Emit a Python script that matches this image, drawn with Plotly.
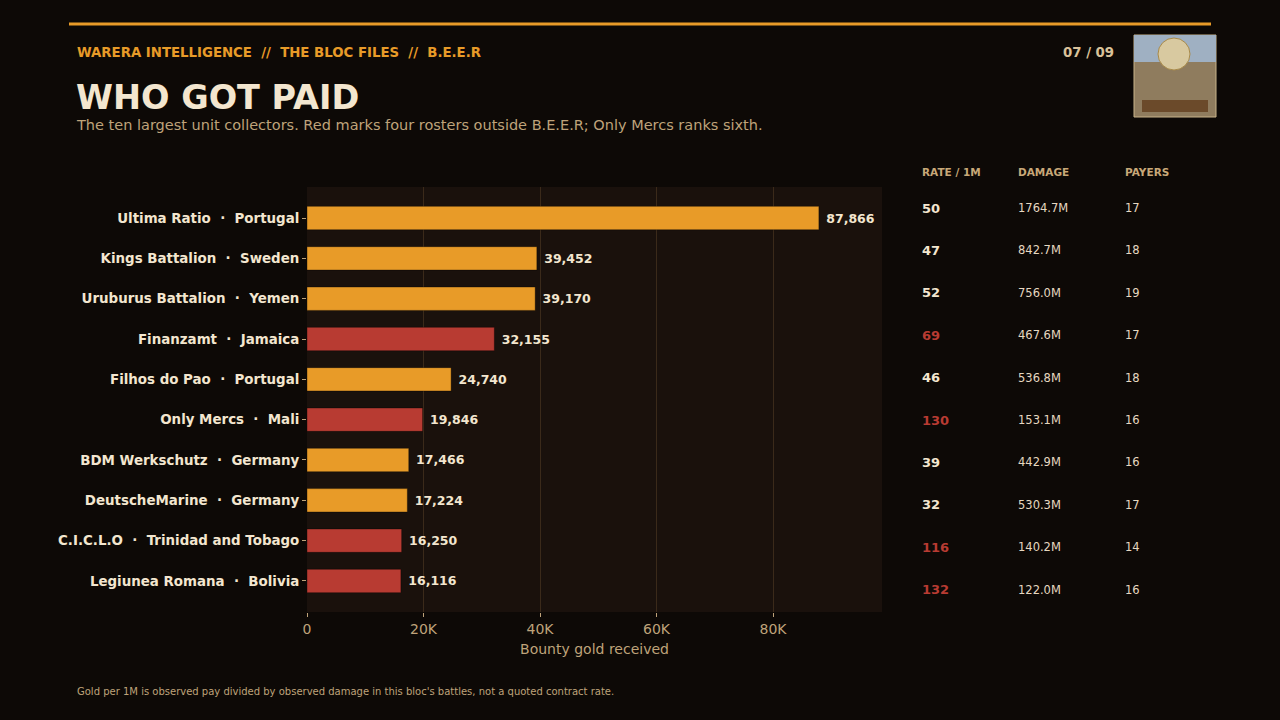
import plotly.graph_objects as go

# ---- data ----
units = ["Ultima Ratio", "Kings Battalion", "Uruburus Battalion", "Finanzamt", "Filhos do Pao",
         "Only Mercs", "BDM Werkschutz", "DeutscheMarine", "C.I.C.L.O", "Legiunea Romana"]
countries = ["Portugal", "Sweden", "Yemen", "Jamaica", "Portugal",
             "Mali", "Germany", "Germany", "Trinidad and Tobago", "Bolivia"]
gold = [87866, 39452, 39170, 32155, 24740, 19846, 17466, 17224, 16250, 16116]
outside_bloc = [False, False, False, True, False, True, False, False, True, True]
rate_per_1m = [50, 47, 52, 69, 46, 130, 39, 32, 116, 132]
damage_m = [1764.7, 842.7, 756.0, 467.6, 536.8, 153.1, 442.9, 530.3, 140.2, 122.0]
payers = [17, 18, 19, 17, 18, 16, 16, 17, 14, 16]
x_ticks = [0, 20000, 40000, 60000, 80000]
x_tick_labels = ["0", "20K", "40K", "60K", "80K"]

BG = "#0d0906"
PLOT_BG = "#1a110c"
ORANGE = "#e89b28"
RED = "#b83b32"
CREAM = "#f3e6cf"
TAN = "#bfa37a"
GRID = "#3b2a1a"
FONT = "DejaVu Sans"

nb = "\u00a0"
labels = [f"{u}{nb*2}·{nb*2}{c}" for u, c in zip(units, countries)]
colors = [RED if o else ORANGE for o in outside_bloc]

fig = go.Figure()
fig.add_trace(go.Bar(
    x=gold, y=labels, orientation="h",
    marker=dict(color=colors, line=dict(color="rgba(0,0,0,0.35)", width=1)),
    width=0.58,
    text=[f"{nb}{g:,}" for g in gold], textposition="outside",
    textfont=dict(family=FONT, size=12.5, color=CREAM, weight="bold"),
    cliponaxis=False, hoverinfo="skip",
))

# plot area: x 307..882, y 187..612 in pixels
L, R, T, B = 307, 882, 187, 612
W, H = 1280, 720
def px(x):
    return (x - L) / (R - L)
def py(y):
    return (B - y) / (B - T)

ann = []
def text(x, y, s, size, color, bold=False, xanchor="left"):
    ann.append(dict(xref="paper", yref="paper", x=px(x), y=py(y), text=s, showarrow=False,
                    xanchor=xanchor, yanchor="middle",
                    font=dict(family=FONT, size=size, color=color, weight="bold" if bold else "normal")))

text(75, 52, f"WARERA INTELLIGENCE{nb*2}//{nb*2}THE BLOC FILES{nb*2}//{nb*2}B.E.E.R", 13.3, ORANGE, True)
text(1116, 52, "07 / 09", 13.3, "#d9c29a", True, "right")
text(74, 97, "WHO GOT PAID", 33.5, CREAM, True)
text(74, 125, "The ten largest unit collectors. Red marks four rosters outside B.E.E.R; Only Mercs ranks sixth.",
     14.5, TAN)
text(75, 691, "Gold per 1M is observed pay divided by observed damage in this bloc's battles, not a quoted contract rate.",
     10, TAN)

# side table
col_x = [920, 1016, 1123]
text(col_x[0], 172, "RATE / 1M", 10.5, "#c8a878", True)
text(col_x[1], 172, "DAMAGE", 10.5, "#c8a878", True)
text(col_x[2], 172, "PAYERS", 10.5, "#c8a878", True)
row0, step = 208, 42.4
for i in range(len(units)):
    y = row0 + i * step
    text(col_x[0], y, str(rate_per_1m[i]), 13, RED if outside_bloc[i] else CREAM, True)
    text(col_x[1], y, f"{damage_m[i]:.1f}M", 11.5, "#e6d8c0")
    text(col_x[2], y, str(payers[i]), 11.5, "#e6d8c0")

shapes = [
    dict(type="line", xref="paper", yref="paper", x0=px(69), x1=px(1211), y0=py(24), y1=py(24),
         line=dict(color=ORANGE, width=3)),
    # thumbnail placeholder
    dict(type="rect", xref="paper", yref="paper", x0=px(1134), x1=px(1216), y0=py(35), y1=py(117),
         fillcolor="#8f7c5e", line=dict(color="#c9b48a", width=1)),
    dict(type="rect", xref="paper", yref="paper", x0=px(1134), x1=px(1216), y0=py(35), y1=py(62),
         fillcolor="#9fb0c2", line=dict(width=0)),
    dict(type="circle", xref="paper", yref="paper", x0=px(1158), x1=px(1190), y0=py(38), y1=py(70),
         fillcolor="#d8c9a0", line=dict(color="#a88a4a", width=1)),
    dict(type="rect", xref="paper", yref="paper", x0=px(1142), x1=px(1208), y0=py(100), y1=py(112),
         fillcolor="#6b4a2a", line=dict(width=0)),
]

fig.update_layout(
    width=W, height=H,
    margin=dict(l=L, r=W - R, t=T, b=H - B),
    paper_bgcolor=BG, plot_bgcolor=PLOT_BG,
    showlegend=False, annotations=ann, shapes=shapes,
    xaxis=dict(range=[0, 98700], tickvals=x_ticks, ticktext=x_tick_labels,
               showgrid=True, gridcolor=GRID, gridwidth=1, zeroline=False,
               ticks="outside", ticklen=4, tickcolor=TAN,
               tickfont=dict(family=FONT, size=14, color=TAN),
               title=dict(text="Bounty gold received", standoff=8,
                          font=dict(family=FONT, size=14, color=TAN))),
    yaxis=dict(autorange=False, range=[9.77, -0.77], showgrid=False, zeroline=False,
               ticks="outside", ticklen=4, tickcolor=TAN,
               tickfont=dict(family=FONT, size=13.4, color=CREAM, weight="bold")),
)

fig.write_html("out.html", config={"displayModeBar": False},
               post_script="document.body.style.margin='0';document.body.style.background='#0d0906';")
